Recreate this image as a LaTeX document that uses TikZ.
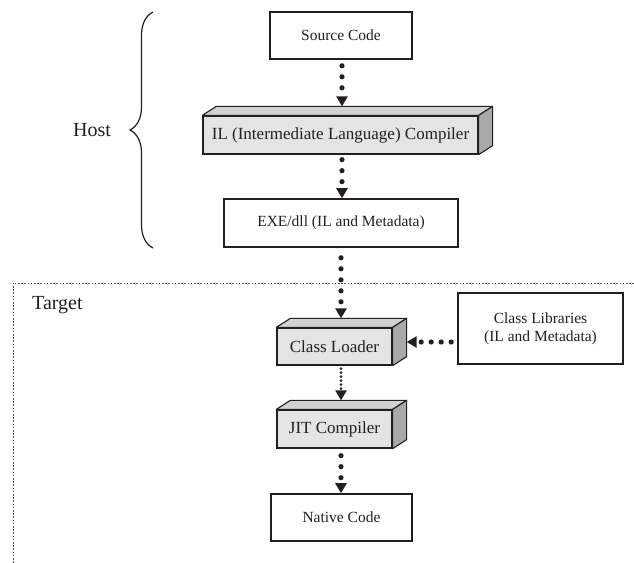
\documentclass[tikz,border=0pt]{standalone}
\usepackage{fontspec}
\setmainfont{Liberation Serif}
\usetikzlibrary{arrows.meta,calc,decorations.pathreplacing}
\definecolor{ink}{HTML}{231F20}
\definecolor{facefront}{HTML}{E4E4E4}
\definecolor{facetop}{HTML}{D2D2D2}
\definecolor{faceside}{HTML}{A9A9A9}
\tikzset{
  flatbox/.style={draw=ink, line width=1.6pt, fill=white, text=ink, inner sep=0pt,
    font=\fontsize{15.5}{18}\selectfont, align=center},
  solidbox/.style={draw=ink, line width=1.3pt, fill=facefront, text=ink, inner sep=0pt,
    font=\fontsize{17}{20}\selectfont},
  facetopstyle/.style={draw=ink, line width=1.1pt, fill=facetop, line join=round},
  facesidestyle/.style={draw=ink, line width=1.1pt, fill=faceside, line join=round},
  bigdots/.style={ink, line width=5.2pt, line cap=round, dash pattern=on 0pt off 11pt,
    -{Triangle[width=11pt,length=10pt]}},
  smalldots/.style={ink, line width=3pt, line cap=round, dash pattern=on 0pt off 4pt,
    -{Triangle[width=11pt,length=10pt]}},
  bigtext/.style={text=ink, font=\fontsize{20}{24}\selectfont, inner sep=0pt},
}
% depth of the extruded boxes
\newcommand{\dx}{14}
\newcommand{\dy}{-9}
\newcommand{\solid}[1]{%
  \draw[facetopstyle] (#1.north west) -- ++(\dx,\dy) -- ($(#1.north east)+(\dx,\dy)$) -- (#1.north east) -- cycle;
  \draw[facesidestyle] (#1.north east) -- ++(\dx,\dy) -- ($(#1.south east)+(\dx,\dy)$) -- (#1.south east) -- cycle;
}
\begin{document}
\begin{tikzpicture}[x=1pt,y=-1pt]
\useasboundingbox (0,0) rectangle (634,562);

% target boundary
\draw[ink!80, line width=0.9pt, dash pattern=on 1.6pt off 1.6pt] (13,566) -- (13,283) -- (640,283);
\node[bigtext, anchor=west] (target) at (32,305) {Target};

% host brace
\draw[ink, line width=1.2pt, decorate, decoration={brace, amplitude=23pt}] (153,248) -- (153,12) coordinate (bracetop);
\node[bigtext] (host) at (92,130) {Host};

% boxes
\node[flatbox, minimum width=142pt, minimum height=47pt] (src) at (341,35.5) {Source Code};
\node[solidbox, minimum width=275pt, minimum height=38pt] (il) at (340.5,135) {IL (Intermediate Language) Compiler};
\solid{il}
\node[flatbox, minimum width=234pt, minimum height=48pt] (exe) at (341,223) {EXE/dll (IL and Metadata)};
\node[solidbox, minimum width=115pt, minimum height=37pt] (cl) at (334.5,346.5) {Class Loader};
\solid{cl}
\node[flatbox, minimum width=165pt, minimum height=71pt] (lib) at (540.5,328.5) {Class Libraries\\(IL and Metadata)};
\node[solidbox, minimum width=115pt, minimum height=38pt] (jit) at (334.5,429) {JIT Compiler};
\solid{jit}
\node[flatbox, minimum width=141pt, minimum height=47pt] (nat) at (341.5,517.5) {Native Code};

% arrow end points on the extruded faces
\coordinate (iltop) at ($(il.north)+(0,\dy)$);
\coordinate (cltop) at ($(cl.north)+(0,\dy)$);
\coordinate (jittop) at ($(jit.north)+(0,\dy)$);
\coordinate (clside) at ($(cl.east)+(\dx,0.5*\dy)$);

% connectors
\draw[bigdots, dash phase=5pt] ($(src.south)+(1,0)$) -- ($(src.south |- iltop)+(1,0)$);
\draw[bigdots, dash phase=6pt] ($(src.south |- il.south)+(1,0)$) -- ($(src.south |- exe.north)+(1,0)$);
\draw[bigdots, dash phase=1pt] (exe.south) -- (exe.south |- cltop);
\draw[bigdots, dash pattern=on 0pt off 10pt, dash phase=4pt] (lib.west |- clside) -- (clside);
\draw[smalldots, dash phase=1pt] (exe.south |- cl.south) -- (exe.south |- jittop);
\draw[bigdots, dash phase=4pt] (exe.south |- jit.south) -- (exe.south |- nat.north);
\end{tikzpicture}
\end{document}
